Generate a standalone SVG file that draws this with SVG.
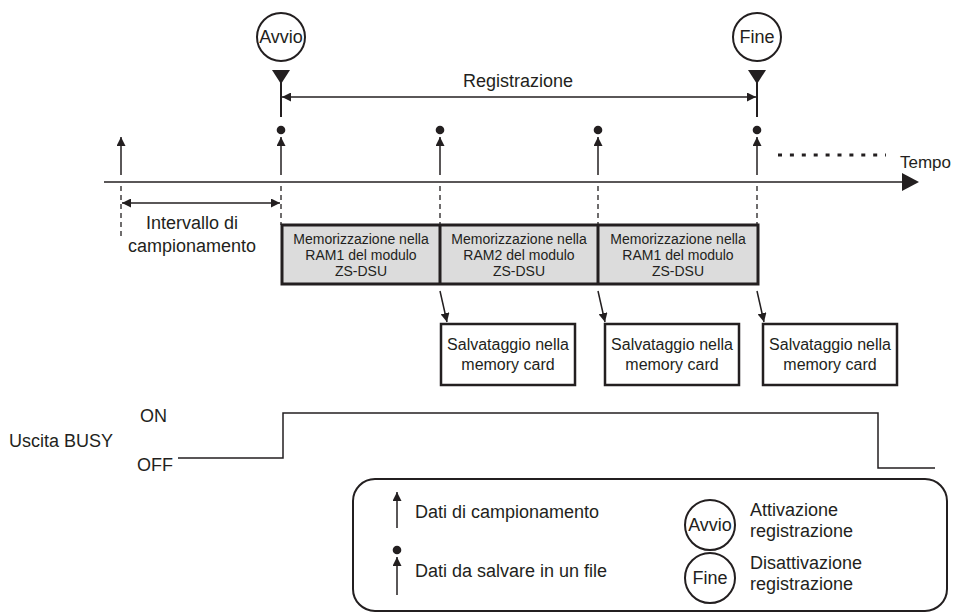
<svg xmlns="http://www.w3.org/2000/svg" width="959" height="616" viewBox="0 0 959 616">
<style>
.ln{stroke:#231f20;stroke-width:1.5;fill:none}
.dash{stroke:#231f20;stroke-width:1.3;stroke-dasharray:5 4;fill:none}
.t{font-family:"Liberation Sans",Arial,sans-serif;fill:#231f20}
.s18{font-size:18px}
.s17{font-size:17px}
.s16{font-size:16px}
.s14{font-size:14px}
.mid{text-anchor:middle}
.circ{fill:#fff;stroke:#231f20;stroke-width:2}
.dot{fill:#231f20}
.gbox{fill:#dcdcdc;stroke:#231f20;stroke-width:3}
.wbox{fill:#fff;stroke:#231f20;stroke-width:2.5}
</style>
<defs>
<marker id="ah" viewBox="0 0 10 10" refX="10" refY="5" markerWidth="9" markerHeight="9" markerUnits="userSpaceOnUse" orient="auto-start-reverse">
<path d="M0,0 L10,5 L0,10 z" fill="#231f20"/>
</marker>
</defs>

<g id="connectors">
<line class="ln" x1="104" y1="182" x2="904" y2="182"/>
<polygon points="902,173 919,182 902,191" fill="#231f20"/>
<line x1="778" y1="155" x2="886" y2="155" stroke="#231f20" stroke-width="3" stroke-dasharray="4 7.9"/>
<polygon points="272,70 290,70 281,84" fill="#231f20"/>
<line x1="281" y1="82" x2="281" y2="117" stroke="#231f20" stroke-width="2"/>
<polygon points="748,70 766,70 757,84" fill="#231f20"/>
<line x1="757" y1="82" x2="757" y2="117" stroke="#231f20" stroke-width="2"/>
<line class="ln" x1="282" y1="97" x2="756" y2="97" marker-start="url(#ah)" marker-end="url(#ah)"/>
<line class="ln" x1="121" y1="175" x2="121" y2="137" marker-end="url(#ah)"/>
<line class="ln" x1="281" y1="175" x2="281" y2="137" marker-end="url(#ah)"/>
<line class="ln" x1="440" y1="175" x2="440" y2="137" marker-end="url(#ah)"/>
<line class="ln" x1="598" y1="175" x2="598" y2="137" marker-end="url(#ah)"/>
<line class="ln" x1="757" y1="175" x2="757" y2="137" marker-end="url(#ah)"/>
<circle class="dot" cx="281" cy="130" r="4.3"/>
<circle class="dot" cx="440" cy="130" r="4.3"/>
<circle class="dot" cx="598" cy="130" r="4.3"/>
<circle class="dot" cx="757" cy="130" r="4.3"/>
<line class="dash" x1="121" y1="186" x2="121" y2="236"/>
<line class="dash" x1="281" y1="186" x2="281" y2="225"/>
<line class="dash" x1="440" y1="186" x2="440" y2="225"/>
<line class="dash" x1="598" y1="186" x2="598" y2="225"/>
<line class="dash" x1="757" y1="186" x2="757" y2="225"/>
<line class="ln" x1="122" y1="203" x2="280" y2="203" marker-start="url(#ah)" marker-end="url(#ah)"/>
<line class="ln" x1="440" y1="291" x2="447" y2="322" marker-end="url(#ah)"/>
<line class="ln" x1="598" y1="291" x2="605" y2="322" marker-end="url(#ah)"/>
<line class="ln" x1="757" y1="291" x2="764" y2="322" marker-end="url(#ah)"/>
<polyline class="ln" stroke-width="1.3" points="178,458 283,458 283,413 878,413 878,468 935,468"/>
</g>

<g id="avvio">
<circle class="circ" cx="281" cy="37" r="24"/>
<text class="t s18 mid" x="281" y="43">Avvio</text>
</g>
<g id="fine">
<circle class="circ" cx="757" cy="37" r="24"/>
<text class="t s18 mid" x="757" y="43">Fine</text>
</g>
<g id="labels">
<text class="t s18 mid" x="518" y="87">Registrazione</text>
<text class="t s17" x="900" y="168">Tempo</text>
<text class="t s18 mid" x="192" y="229">Intervallo di</text>
<text class="t s18 mid" x="192" y="252">campionamento</text>
</g>

<g id="ram-boxes">
<rect class="gbox" x="282" y="225" width="476" height="59"/>
<line x1="440" y1="225" x2="440" y2="284" stroke="#231f20" stroke-width="3"/>
<line x1="598" y1="225" x2="598" y2="284" stroke="#231f20" stroke-width="3"/>
</g>
<g id="ram1a">
<text class="t s14 mid" x="361" y="244">Memorizzazione nella</text>
<text class="t s14 mid" x="361" y="260">RAM1 del modulo</text>
<text class="t s14 mid" x="361" y="276">ZS-DSU</text>
</g>
<g id="ram2">
<text class="t s14 mid" x="519" y="244">Memorizzazione nella</text>
<text class="t s14 mid" x="519" y="260">RAM2 del modulo</text>
<text class="t s14 mid" x="519" y="276">ZS-DSU</text>
</g>
<g id="ram1b">
<text class="t s14 mid" x="678" y="244">Memorizzazione nella</text>
<text class="t s14 mid" x="678" y="260">RAM1 del modulo</text>
<text class="t s14 mid" x="678" y="276">ZS-DSU</text>
</g>

<g id="save1">
<rect class="wbox" x="441" y="324" width="134" height="61"/>
<text class="t s16 mid" x="508" y="350">Salvataggio nella</text>
<text class="t s16 mid" x="508" y="370">memory card</text>
</g>
<g id="save2">
<rect class="wbox" x="605" y="324" width="134" height="61"/>
<text class="t s16 mid" x="672" y="350">Salvataggio nella</text>
<text class="t s16 mid" x="672" y="370">memory card</text>
</g>
<g id="save3">
<rect class="wbox" x="763" y="324" width="134" height="61"/>
<text class="t s16 mid" x="830" y="350">Salvataggio nella</text>
<text class="t s16 mid" x="830" y="370">memory card</text>
</g>

<g id="busy">
<text class="t s18" x="9" y="447">Uscita BUSY</text>
<text class="t s18" x="140" y="422">ON</text>
<text class="t s18" x="137" y="471">OFF</text>
</g>

<g id="legend">
<rect x="353" y="479" width="594" height="132" rx="22" fill="#fff" stroke="#231f20" stroke-width="2"/>
<line class="ln" x1="397" y1="528" x2="397" y2="492" marker-end="url(#ah)"/>
<text class="t s18" x="415" y="518">Dati di campionamento</text>
<circle class="dot" cx="397" cy="550" r="4.3"/>
<line class="ln" x1="397" y1="595" x2="397" y2="557" marker-end="url(#ah)"/>
<text class="t s18" x="415" y="577">Dati da salvare in un file</text>
<circle class="circ" cx="710" cy="525" r="25"/>
<text class="t s18 mid" x="710" y="531">Avvio</text>
<circle class="circ" cx="710" cy="578" r="25"/>
<text class="t s18 mid" x="710" y="584">Fine</text>
<text class="t s18" x="750" y="516">Attivazione</text>
<text class="t s18" x="750" y="537">registrazione</text>
<text class="t s18" x="750" y="569">Disattivazione</text>
<text class="t s18" x="750" y="590">registrazione</text>
</g>
</svg>
